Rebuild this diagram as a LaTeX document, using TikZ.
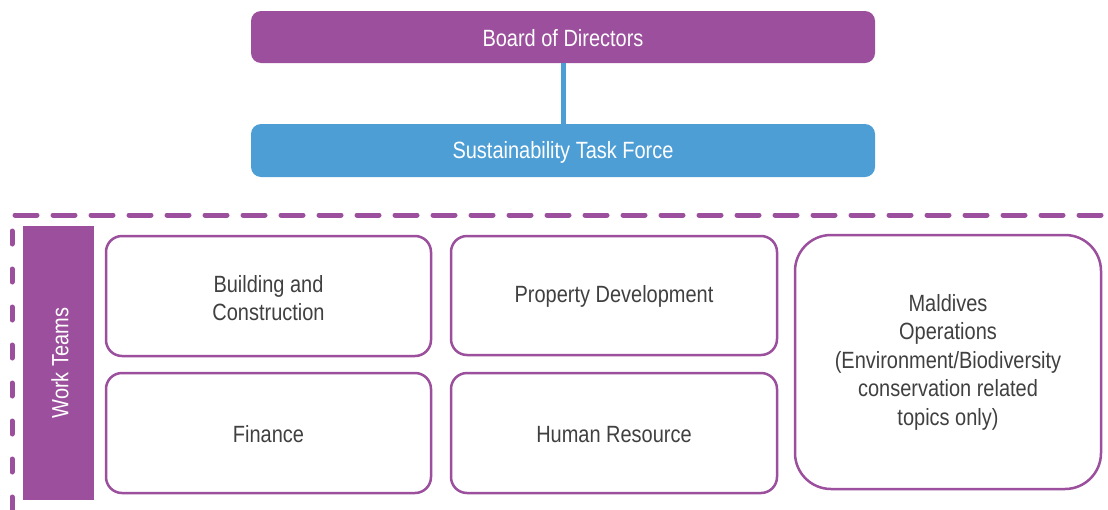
\documentclass[tikz,border=0pt]{standalone}
\usepackage{fontspec}
\setmainfont{Liberation Sans}[FakeStretch=0.85]
\definecolor{vio}{HTML}{9B4F9D}
\definecolor{sky}{HTML}{4E9ED6}
\definecolor{txt}{HTML}{404040}
\begin{document}
\begin{tikzpicture}[x=1pt,y=-1pt,
  team/.style={draw=vio,line width=2.5pt,fill=white,rounded corners=16pt},
  wtxt/.style={text=white,font=\fontsize{23.5}{28}\selectfont},
  ttxt/.style={text=txt,align=center,font=\fontsize{23.5}{28.5}\selectfont},
  sep/.style={draw=vio,line width=5pt,line cap=round}]
\useasboundingbox (0,0) rectangle (1108,509);
\fill[vio,rounded corners=10pt] (251,11) rectangle (875,63);
\node[wtxt] (board) at (563,38) {Board of Directors};
\fill[sky,rounded corners=10pt] (251,124) rectangle (875,177);
\node[wtxt] (stf) at (563,152) {Sustainability Task Force};
\coordinate (bb) at (563,63);
\coordinate (st) at (563,124);
\draw[sky,line width=5pt] (bb) -- (st);
\coordinate (h1) at (15,215);
\coordinate (h2) at (1105,215);
\draw[sep,dash pattern=on 22pt off 16pt] (h1) -- (h2);
\coordinate (v1) at (12,231);
\coordinate (v2) at (12,515);
\draw[sep,dash pattern=on 13pt off 25pt] (v1) -- (v2);
\fill[vio] (23,226) rectangle (94,500);
\node[wtxt,rotate=90] (wt) at (60,363) {Work Teams};
\draw[team] (106,236) rectangle (431,356);
\node[ttxt] (bc) at (268.5,298) {Building and\\Construction};
\draw[team] (106,373) rectangle (431,493);
\node[ttxt] (fin) at (268.5,434.5) {Finance};
\draw[team] (451,236) rectangle (777,355);
\node[ttxt] (pd) at (614,296) {Property Development};
\draw[team] (451,373) rectangle (777,493);
\node[ttxt] (hr) at (614,434.5) {Human Resource};
\draw[team,rounded corners=36pt] (795,235) rectangle (1101,489);
\node[ttxt] (md) at (948,362) {Maldives\\Operations\\(Environment/Biodiversity\\conservation related\\topics only)};
\end{tikzpicture}
\end{document}
